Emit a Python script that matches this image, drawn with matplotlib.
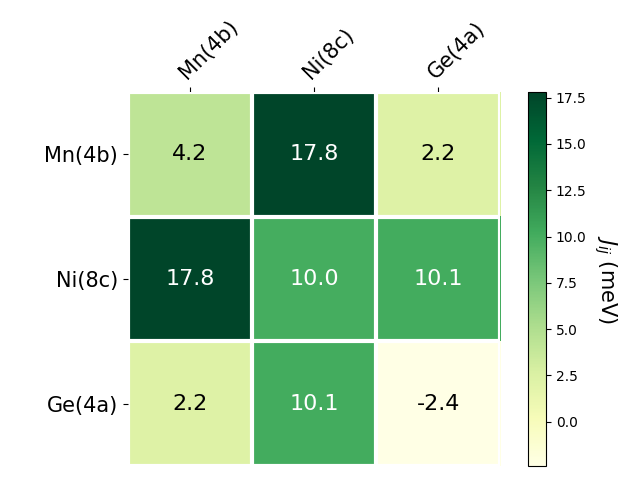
import numpy as np
import matplotlib
matplotlib.use("Agg")
import matplotlib.pyplot as plt

sites = ["Mn(4b)", "Ni(8c)", "Ge(4a)"]
J = np.array([[4.2, 17.8, 2.2],
              [17.8, 10.0, 10.1],
              [2.2, 10.1, -2.4]])

fig = plt.figure(figsize=(6.4, 4.8), dpi=100)
ax = fig.add_axes([0.1995, 0.0295, 0.5825, 0.7785])
cax = fig.add_axes([0.825, 0.029, 0.028, 0.779])

im = ax.imshow(J, cmap="YlGn", aspect="auto")
cbar = fig.colorbar(im, cax=cax)
cbar.ax.set_ylabel(r"$J_{ij}$ (meV)", rotation=-90, va="bottom", fontsize=15)

ax.set_xticks(np.arange(len(sites)))
ax.set_yticks(np.arange(len(sites)))
ax.set_xticklabels(sites, fontsize=15)
ax.set_yticklabels(sites, fontsize=15)
ax.tick_params(top=True, bottom=False, labeltop=True, labelbottom=False)
plt.setp(ax.get_xticklabels(), rotation=45, ha="left", rotation_mode="anchor")

for s in ax.spines.values():
    s.set_visible(False)
ax.set_xticks(np.arange(J.shape[1] + 1) - .5, minor=True)
ax.set_yticks(np.arange(J.shape[0] + 1) - .5, minor=True)
ax.grid(which="minor", color="w", linestyle="-", linewidth=3)
ax.tick_params(which="minor", bottom=False, left=False, top=False)

thresh = (J.max() + J.min()) / 2.0
for i in range(J.shape[0]):
    for j in range(J.shape[1]):
        ax.text(j, i, f"{J[i, j]:.1f}", ha="center", va="center", fontsize=16,
                color="white" if J[i, j] > thresh else "black")

fig.savefig("out.png", dpi=100)
